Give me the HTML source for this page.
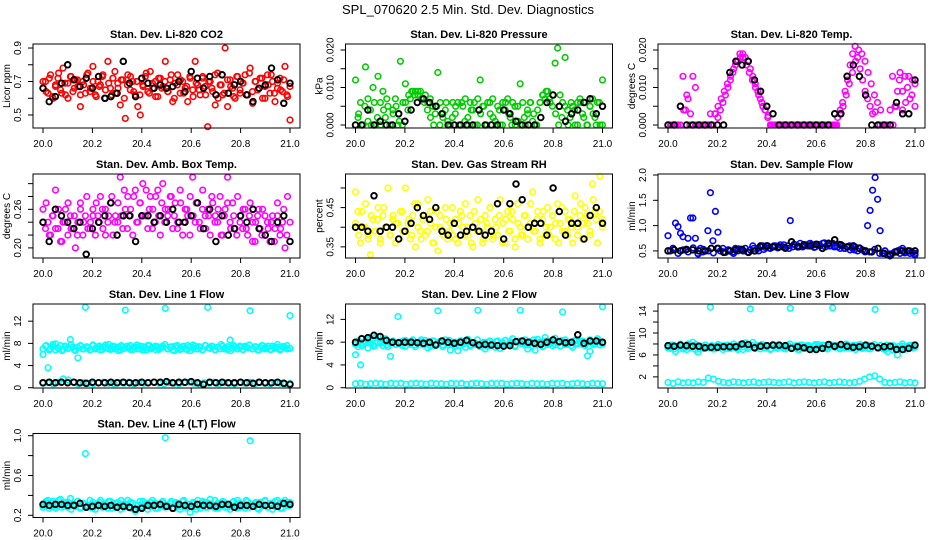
<!DOCTYPE html>
<html><head><meta charset="utf-8"><style>
html,body{margin:0;padding:0;background:#fff;}
svg{display:block;font-family:"Liberation Sans",Arial,sans-serif;}
</style></head><body>
<svg id="chart" width="936" height="540" viewBox="0 0 936 540" xmlns="http://www.w3.org/2000/svg">
<rect x="0" y="0" width="936" height="540" fill="#fff"/>
<text x="468" y="14" font-size="13" text-anchor="middle">SPL_070620  2.5 Min. Std. Dev. Diagnostics</text>
</svg>
<script>
const xTicks = [20.0,20.2,20.4,20.6,20.8,21.0];
const xTickLabels = ["20.0","20.2","20.4","20.6","20.8","21.0"];

const co2Red = [0.66,0.70,0.63,0.74,0.60,0.68,0.72,0.65,0.78,0.62,0.69,0.73,0.64,0.71,0.67,0.55,0.70,0.63,0.75,0.66,0.79,0.62,0.70,0.68,0.74,0.60,0.82,0.66,0.72,0.63,0.69,0.56,0.71,0.48,0.74,0.65,0.70,0.62,0.55,0.50,0.68,0.73,0.64,0.76,0.66,0.70,0.61,0.72,0.67,0.82,0.64,0.71,0.58,0.69,0.74,0.63,0.70,0.66,0.58,0.72,0.65,0.82,0.68,0.62,0.73,0.67,0.43,0.70,0.64,0.56,0.75,0.68,0.62,0.90,0.55,0.71,0.66,0.60,0.73,0.63,0.69,0.74,0.62,0.78,0.57,0.70,0.65,0.72,0.60,0.67,0.74,0.63,0.70,0.58,0.66,0.72,0.64,0.79,0.61,0.47];
const co2Red2 = [0.70,0.64,0.72,0.61,0.67,0.75,0.63,0.69,0.60,0.73,0.66,0.71,0.62,0.68,0.74,0.64,0.70,0.61,0.67,0.73,0.65,0.69,0.62,0.76,0.66,0.71,0.60,0.68,0.73,0.64,0.70,0.62,0.67,0.75,0.63,0.69,0.61,0.72,0.66,0.70,0.64,0.74,0.60,0.68,0.71,0.63,0.67,0.73,0.61,0.69,0.65,0.72,0.62,0.70,0.66,0.74,0.60,0.68,0.63,0.71,0.67,0.61,0.73,0.65,0.69,0.62,0.75,0.64,0.70,0.66,0.72,0.60,0.68,0.74,0.63,0.69,0.65,0.71,0.62,0.67];
const co2Black = [0.66,0.58,0.61,0.69,0.80,0.71,0.67,0.72,0.66,0.73,0.60,0.61,0.63,0.82,0.69,0.61,0.72,0.69,0.66,0.68,0.66,0.67,0.70,0.64,0.76,0.72,0.66,0.73,0.62,0.74,0.63,0.68,0.70,0.62,0.58,0.66,0.68,0.78,0.71,0.57,0.69];
const presGreen = [0.012,0.002,0.006,0.0,0.0155,0.007,0.004,0.010,0.0,0.013,0.006,0.009,0.002,0.005,0.0,0.004,0.007,0.0,0.017,0.006,0.011,0.004,0.007,0.009,0.009,0.008,0.009,0.007,0.008,0.006,0.007,0.005,0.003,0.014,0.006,0.002,0.004,0.001,0.0,0.006,0.003,0.006,0.0,0.005,0.007,0.002,0.006,0.004,0.0,0.007,0.012,0.005,0.0,0.006,0.003,0.007,0.001,0.005,0.0,0.006,0.004,0.007,0.002,0.006,0.0,0.005,0.011,0.006,0.0,0.003,0.006,0.001,0.0,0.004,0.006,0.008,0.007,0.009,0.006,0.008,0.0165,0.0205,0.008,0.006,0.018,0.004,0.002,0.005,0.0,0.006,0.007,0.003,0.006,0.0,0.005,0.007,0.002,0.006,0.0,0.012];
const presGreen2 = [0,0.003,0,0.005,0.001,0,0.006,0.002,0,0.004,0.007,0,0.003,0.005,0.001,0,0.006,0.008,0.009,0.008,0.009,0.007,0.006,0.004,0.002,0,0.005,0,0.003,0.006,0,0.002,0.005,0,0.006,0.001,0,0.004,0.006,0,0.003,0.005,0,0.006,0.002,0,0.004,0,0.006,0.003,0,0.005,0.001,0,0.002,0.004,0.006,0.003,0,0.006,0.008,0.009,0.007,0.005,0.003,0,0.002,0.005,0,0.006,0.004,0,0.006,0.002,0,0.005,0.003,0,0.006,0];
const presBlack = [0,0,0.004,0,0.001,0,0,0.003,0.001,0.004,0.006,0.007,0.006,0.005,0.003,0,0,0,0,0,0.004,0,0,0,0.004,0.003,0.001,0,0,0,0.002,0.006,0.008,0.005,0.001,0.003,0.004,0.006,0.007,0.003,0.005];
const tempMag = [0,0,0,0,0,0.005,0.013,0.004,0.007,0.003,0.013,0.010,0,0,0,0,0,0.003,0,0.003,0.002,0.004,0.006,0.008,0.010,0.012,0.014,0.016,0.017,0.018,0.019,0.018,0.017,0.015,0.013,0.011,0.009,0.007,0.005,0.004,0.002,0,0,0,0,0,0,0,0,0,0,0,0,0,0,0,0,0,0,0,0,0,0,0,0,0,0,0,0.002,0.004,0.006,0.009,0.012,0.016,0.019,0.021,0.018,0.015,0.012,0.009,0.007,0.005,0.003,0.0035,0,0,0,0,0,0.004,0.013,0.005,0.009,0.014,0.004,0.013,0.010,0.007,0.012,0.011];
const tempMag2 = [0,0,0,0,0,0.004,0.008,0,0,0,0,0,0,0,0,0.003,0.005,0.007,0.009,0.011,0.013,0.015,0.017,0.019,0.018,0.016,0.014,0.012,0.010,0.008,0.006,0.004,0.0025,0,0,0,0,0,0,0,0,0,0,0,0,0,0,0,0,0,0,0,0,0,0,0.003,0.005,0.008,0.011,0.014,0.017,0.020,0.019,0.017,0.014,0.011,0.008,0.006,0.004,0,0,0,0,0.005,0.012,0.009,0.006,0.013,0.008,0.005];
const tempBlack = [0,0,0.005,0,0,0,0,0,0,0,0.014,0.017,0.016,0.017,0.012,0.009,0.005,0.003,0,0,0,0,0,0,0,0,0,0.003,0.003,0.013,0.016,0.013,0.008,0,0,0,0,0.006,0.003,0.003,0.012];
const ambMag = [0.26,0.23,0.24,0.22,0.25,0.29,0.23,0.21,0.24,0.26,0.22,0.25,0.23,0.20,0.24,0.27,0.22,0.25,0.23,0.24,0.26,0.22,0.25,0.28,0.23,0.26,0.24,0.27,0.22,0.25,0.24,0.31,0.23,0.26,0.28,0.25,0.22,0.29,0.24,0.27,0.30,0.25,0.23,0.28,0.26,0.24,0.29,0.22,0.30,0.26,0.25,0.28,0.23,0.27,0.24,0.29,0.22,0.26,0.25,0.28,0.31,0.24,0.27,0.23,0.29,0.25,0.26,0.22,0.27,0.25,0.24,0.28,0.22,0.26,0.31,0.24,0.27,0.23,0.28,0.25,0.23,0.26,0.22,0.27,0.24,0.21,0.25,0.23,0.26,0.22,0.24,0.21,0.25,0.23,0.27,0.22,0.24,0.20,0.28,0.21];
const ambMag2 = [0.24,0.27,0.22,0.25,0.23,0.26,0.21,0.24,0.27,0.23,0.25,0.22,0.26,0.24,0.28,0.23,0.25,0.27,0.24,0.26,0.22,0.25,0.28,0.24,0.27,0.25,0.29,0.23,0.26,0.28,0.24,0.27,0.25,0.29,0.26,0.23,0.28,0.25,0.27,0.24,0.26,0.28,0.25,0.23,0.27,0.24,0.26,0.22,0.25,0.27,0.24,0.26,0.23,0.25,0.28,0.24,0.26,0.22,0.25,0.27,0.23,0.25,0.22,0.24,0.26,0.23,0.25,0.21,0.24,0.26,0.22,0.25,0.23,0.24,0.21,0.25,0.23,0.26,0.22,0.24];
const ambBlack = [0.24,0.21,0.26,0.25,0.24,0.23,0.24,0.19,0.23,0.24,0.25,0.27,0.22,0.25,0.25,0.21,0.25,0.25,0.24,0.25,0.24,0.26,0.24,0.24,0.25,0.27,0.23,0.26,0.21,0.25,0.22,0.23,0.25,0.24,0.26,0.23,0.22,0.21,0.24,0.25,0.21];
const rhYellow = [0.49,0.44,0.36,0.40,0.46,0.38,0.33,0.42,0.39,0.45,0.37,0.43,0.40,0.50,0.38,0.42,0.36,0.41,0.44,0.39,0.50,0.41,0.37,0.43,0.35,0.46,0.39,0.42,0.38,0.47,0.44,0.36,0.40,0.34,0.43,0.39,0.45,0.37,0.41,0.38,0.42,0.36,0.44,0.40,0.46,0.38,0.43,0.35,0.41,0.47,0.39,0.36,0.43,0.40,0.45,0.37,0.42,0.38,0.47,0.41,0.36,0.44,0.39,0.42,0.35,0.46,0.40,0.38,0.43,0.37,0.41,0.49,0.39,0.44,0.36,0.42,0.38,0.45,0.40,0.43,0.37,0.46,0.41,0.39,0.44,0.38,0.42,0.36,0.48,0.40,0.43,0.37,0.45,0.41,0.38,0.51,0.44,0.36,0.53,0.42];
const rhYellow2 = [0.41,0.38,0.44,0.40,0.37,0.43,0.39,0.42,0.36,0.45,0.40,0.38,0.43,0.41,0.37,0.44,0.39,0.42,0.38,0.46,0.40,0.37,0.43,0.39,0.41,0.36,0.44,0.40,0.38,0.42,0.39,0.45,0.37,0.41,0.43,0.38,0.40,0.36,0.44,0.39,0.42,0.37,0.41,0.45,0.38,0.40,0.43,0.36,0.42,0.39,0.44,0.37,0.41,0.38,0.43,0.40,0.46,0.39,0.42,0.37,0.44,0.40,0.38,0.43,0.41,0.36,0.45,0.39,0.42,0.40,0.44,0.38,0.46,0.41,0.43,0.39,0.47,0.42,0.44,0.40];
const rhBlack = [0.40,0.40,0.39,0.48,0.39,0.40,0.40,0.37,0.39,0.41,0.45,0.43,0.42,0.45,0.39,0.38,0.41,0.38,0.39,0.40,0.39,0.38,0.39,0.46,0.37,0.46,0.51,0.47,0.40,0.41,0.41,0.38,0.50,0.44,0.38,0.41,0.41,0.37,0.43,0.45,0.41];
const flowBlue = [0.80,0.50,0.55,1.05,0.98,0.85,0.78,0.52,0.75,1.15,1.15,0.75,0.45,0.55,0.48,0.50,0.90,1.65,0.70,1.28,0.87,0.50,0.55,0.47,0.52,0.50,0.48,0.55,0.50,0.53,0.50,0.55,0.48,0.52,0.60,0.50,0.55,0.58,0.60,0.57,0.60,0.55,0.58,0.60,0.56,0.62,0.58,0.55,0.60,1.10,0.58,0.62,0.60,0.65,0.58,0.62,0.60,0.65,0.62,0.58,0.63,0.60,0.65,0.58,0.62,0.60,0.65,0.60,0.58,0.55,0.60,0.55,0.58,0.52,0.55,0.58,0.50,0.55,0.52,0.48,1.00,1.30,1.70,1.95,1.52,0.90,0.45,0.50,0.42,0.40,0.45,0.48,0.50,0.45,0.55,0.48,0.50,0.45,0.47,0.42];
const flowBlueBand = [0.50,0.55,0.45,0.52,0.48,0.56,0.44,0.53,0.50,0.46,0.55,0.48,0.52,0.45,0.54,0.50,0.47,0.55,0.50,0.53,0.56,0.60,0.58,0.62,0.55,0.63,0.58,0.60,0.64,0.57,0.62,0.66,0.60,0.58,0.63,0.55,0.60,0.52,0.56,0.50,0.48,0.53,0.45,0.50,0.44,0.48,0.52,0.46,0.50,0.45];
const flowBlack = [0.50,0.52,0.50,0.53,0.52,0.50,0.50,0.55,0.55,0.47,0.50,0.52,0.53,0.47,0.50,0.60,0.60,0.58,0.58,0.56,0.68,0.58,0.62,0.60,0.63,0.55,0.65,0.72,0.62,0.58,0.60,0.55,0.50,0.48,0.55,0.45,0.42,0.48,0.50,0.50,0.50];
const l1Upper = [6.0,7.5,3.6,7.0,7.8,6.8,7.2,7.6,6.9,7.4,7.1,8.7,7.3,6.7,5.4,7.5,7.0,14.5,7.2,6.9,7.6,7.0,7.4,6.8,7.3,7.7,7.1,6.9,7.5,7.0,7.3,6.8,7.4,14.0,7.2,7.6,6.9,7.3,7.0,7.5,6.8,7.2,7.6,7.0,7.3,6.9,7.4,7.1,7.5,14.3,7.0,7.3,6.8,7.5,7.2,6.9,7.4,7.0,7.6,6.7,7.2,7.5,7.0,7.3,6.9,7.6,14.5,7.1,7.4,6.8,7.3,7.0,7.5,7.2,6.9,8.6,7.1,7.4,7.0,7.3,6.9,7.5,7.2,13.9,7.0,7.4,6.8,7.3,7.6,7.0,7.2,6.9,7.5,7.1,7.3,6.8,7.4,7.2,7.0,13.0];
const l1Upper2 = [7.0,7.6,6.8,7.4,7.9,7.1,6.7,7.5,7.2,7.8,6.9,7.3,7.6,7.0,7.4,6.8,7.7,7.2,7.5,6.9,7.3,7.8,7.0,7.4,6.7,7.6,7.1,7.5,6.9,7.3,7.7,7.0,7.4,6.8,7.6,7.2,7.5,6.9,7.3,7.8,7.0,7.4,6.7,7.6,7.1,7.5,6.9,7.3,7.7,7.0,7.4,6.8,7.6,7.2,7.5,6.9,7.3,7.8,7.0,7.4,6.7,7.6,7.1,7.5,6.9,7.3,7.7,7.0,7.4,6.8,7.6,7.2,7.5,6.9,7.3,7.8,7.0,7.4,7.6,7.1];
const l1Lower = [0.8,0.9,0.7,1.0,1.6,1.4,1.0,0.7,0.9,0.8,0.7,0.9,1.0,0.8,0.7,0.9,0.8,1.0,0.7,0.9,0.8,0.9,1.0,0.8,0.7,0.9,0.8,0.7,0.9,1.0,0.8,0.7,0.9,0.8,1.0,0.7,0.9,0.8,0.7,0.9,0.8,1.0,0.7,0.9,0.8,0.7,0.9,0.8,0.7,0.8];
const l1Black = [0.9,1.0,0.9,1.0,0.9,1.0,0.9,0.8,1.0,0.9,0.9,1.0,0.9,1.0,0.9,0.9,1.0,0.9,1.0,1.0,1.1,0.9,1.0,1.0,1.1,0.9,0.6,1.0,0.9,1.0,0.9,0.9,1.0,0.9,0.8,1.0,0.9,0.9,1.0,0.8,0.6];
const l2Upper = [5.8,7.2,4.0,7.8,8.2,7.0,8.5,7.5,8.8,9.0,8.0,7.4,8.6,7.2,5.5,8.0,7.6,12.5,7.8,8.2,7.3,8.0,7.6,8.4,7.2,7.9,8.1,7.5,8.3,7.0,7.8,8.2,7.4,13.5,7.9,7.2,8.4,7.6,6.6,8.0,7.4,6.5,8.2,7.7,7.1,8.5,7.3,7.9,7.6,13.6,7.2,7.8,6.8,8.0,7.4,7.7,7.1,8.2,6.9,7.6,8.3,7.5,7.9,8.6,7.2,8.0,13.6,7.7,8.4,6.8,8.1,7.4,6.6,8.5,7.9,7.2,8.8,7.6,8.2,7.4,8.7,7.9,7.3,13.3,8.4,7.6,8.0,7.1,8.3,7.7,7.9,8.2,7.4,5.6,6.4,8.0,7.7,8.6,7.5,14.2];
const l2Upper2 = [7.6,8.2,7.4,8.0,8.5,7.7,7.3,8.1,7.8,8.4,7.5,7.9,8.2,7.6,8.0,7.4,8.3,7.8,8.1,7.5,7.9,8.4,7.6,8.0,7.3,8.2,7.7,8.1,7.5,7.9,8.3,7.6,8.0,7.4,8.2,7.8,8.1,7.5,7.9,8.4,7.6,8.0,7.3,8.2,7.7,8.1,7.5,7.9,8.3,7.6,8.0,7.4,8.2,7.8,8.1,7.5,7.9,8.4,7.6,8.0,7.3,8.2,7.7,8.1,7.5,7.9,8.3,7.6,8.0,7.4,8.2,7.8,8.1,7.5,7.9,8.4,7.6,8.0,8.2,7.7];
const l2Lower = [0.7,0.8,0.6,0.7,0.8,0.7,0.6,0.8,0.7,0.8,0.6,0.7,0.8,0.7,0.6,0.8,0.7,0.7,0.6,0.8,0.7,0.8,0.6,0.7,0.8,0.7,0.6,0.8,0.7,0.8,0.6,0.7,0.8,0.7,0.6,0.8,0.7,0.7,0.6,0.8,0.7,0.8,0.6,0.7,0.8,0.7,0.6,0.8,0.7,0.7];
const l2Black = [8.0,8.6,8.8,9.2,9.0,8.3,8.0,7.9,8.0,8.0,7.9,7.8,8.0,7.5,8.2,8.0,7.8,8.0,8.3,7.9,7.5,7.6,7.5,7.4,7.3,7.4,8.1,8.2,8.0,7.8,7.6,8.0,8.4,8.1,7.9,8.0,9.3,7.8,8.2,8.2,8.0];
const l3Upper = [7.6,7.2,7.8,6.6,7.5,7.9,7.1,7.4,8.0,7.3,8.3,7.0,6.5,7.6,7.2,7.8,7.4,14.7,7.1,7.6,7.3,7.7,7.0,7.5,7.8,7.2,7.6,7.4,7.0,7.9,7.5,8.2,7.2,14.4,8.3,7.4,7.7,7.1,7.8,7.3,7.6,7.0,7.9,7.4,7.2,7.7,7.5,7.1,7.8,14.5,7.3,7.6,7.0,7.8,7.4,7.2,7.7,7.5,7.1,7.9,7.3,7.6,7.8,7.2,7.5,7.9,14.6,7.4,7.7,7.1,7.6,7.3,7.8,7.5,7.2,7.7,7.4,7.9,7.2,7.5,7.8,7.1,7.6,14.3,7.4,7.7,7.2,7.0,6.6,7.3,6.9,7.5,6.0,7.2,7.6,7.0,7.4,7.7,7.3,14.0];
const l3Upper2 = [7.3,7.8,7.1,7.6,8.0,7.4,7.0,7.7,7.5,7.9,7.2,7.6,7.8,7.3,7.7,7.1,7.9,7.5,7.7,7.2,7.6,8.0,7.3,7.7,7.0,7.8,7.4,7.7,7.2,7.6,7.9,7.3,7.7,7.1,7.8,7.5,7.7,7.2,7.6,8.0,7.3,7.7,7.0,7.8,7.4,7.7,7.2,7.6,7.9,7.3,7.7,7.1,7.8,7.5,7.7,7.2,7.6,8.0,7.3,7.7,7.0,7.8,7.4,7.7,7.2,7.6,7.9,7.3,7.7,7.1,7.8,7.5,7.7,7.2,7.6,8.0,7.3,7.7,7.8,7.4];
const l3Lower = [1.0,0.8,1.1,0.9,1.0,0.9,1.1,1.0,1.8,1.6,1.2,1.0,0.9,1.1,1.0,0.9,1.0,1.1,0.9,1.0,1.1,1.0,0.9,1.0,1.1,0.9,1.0,1.1,1.0,0.9,1.0,1.1,0.9,1.0,1.1,1.0,0.9,1.0,1.2,1.6,2.0,2.2,1.6,1.0,0.9,1.0,1.1,0.9,1.0,0.9];
const l3Black = [7.7,7.6,7.8,7.7,7.6,7.6,7.3,7.4,7.4,7.5,7.5,7.5,8.0,7.9,7.3,7.6,7.7,7.8,7.8,7.7,7.2,7.5,7.3,7.0,7.0,7.2,7.9,7.6,7.9,7.6,7.4,7.5,7.8,7.6,7.3,7.5,7.6,7.0,7.0,7.2,7.8];
const l4Cyan = [0.28,0.32,0.35,0.29,0.34,0.27,0.31,0.36,0.30,0.33,0.28,0.37,0.31,0.29,0.34,0.27,0.32,0.82,0.30,0.28,0.33,0.26,0.31,0.35,0.29,0.32,0.27,0.34,0.30,0.28,0.33,0.26,0.31,0.29,0.35,0.27,0.32,0.24,0.30,0.28,0.34,0.31,0.26,0.33,0.29,0.32,0.27,0.30,0.34,0.98,0.29,0.32,0.27,0.33,0.30,0.26,0.34,0.28,0.31,0.23,0.32,0.29,0.35,0.27,0.31,0.33,0.28,0.36,0.30,0.27,0.32,0.29,0.34,0.28,0.31,0.26,0.33,0.30,0.35,0.28,0.31,0.27,0.34,0.95,0.29,0.32,0.27,0.33,0.30,0.35,0.28,0.31,0.26,0.34,0.29,0.32,0.27,0.35,0.30,0.33];
const l4Cyan2 = [0.30,0.34,0.27,0.32,0.29,0.35,0.28,0.31,0.33,0.26,0.30,0.34,0.28,0.32,0.29,0.35,0.27,0.31,0.33,0.28,0.30,0.34,0.27,0.32,0.29,0.35,0.28,0.31,0.33,0.26,0.30,0.34,0.28,0.32,0.29,0.35,0.27,0.31,0.33,0.28,0.30,0.34,0.27,0.32,0.29,0.35,0.28,0.31,0.33,0.26,0.30,0.34,0.28,0.32,0.29,0.35,0.27,0.31,0.33,0.28,0.30,0.34,0.27,0.32,0.29,0.35,0.28,0.31,0.33,0.26,0.30,0.34,0.28,0.32,0.29,0.35,0.27,0.31,0.33,0.30];
const l4Black = [0.31,0.30,0.31,0.31,0.30,0.30,0.32,0.28,0.29,0.30,0.29,0.30,0.28,0.29,0.28,0.26,0.27,0.30,0.30,0.31,0.29,0.27,0.31,0.30,0.29,0.31,0.30,0.30,0.29,0.31,0.31,0.28,0.30,0.30,0.29,0.31,0.30,0.30,0.29,0.32,0.31];

const svg = document.getElementById('chart');
const NS = 'http://www.w3.org/2000/svg';
const colX = [33, 345.5, 658];
const rowY = [44, 174, 304, 433.5];
const W = 267, H = 84;

function mk(tag, attrs, parent) {
  const e = document.createElementNS(NS, tag);
  for (const k in attrs) e.setAttribute(k, attrs[k]);
  parent.appendChild(e);
  return e;
}

const panels = [
  {c:0,r:0,slug:'co2',title:'Stan. Dev. Li-820 CO2',ylab:'Licor ppm',lo:0.4224,hi:0.924,ticks:[0.5,0.6,0.7,0.8,0.9],labs:{0.5:'0.5',0.7:'0.7',0.9:'0.9'},series:[[co2Red,'#ff0000'],[co2Red2,'#ff0000'],[co2Black,'#000000']]},
  {c:1,r:0,slug:'pressure',title:'Stan. Dev. Li-820 Pressure',ylab:'kPa',lo:-0.0008,hi:0.0216,ticks:[0,0.005,0.01,0.015,0.02],labs:{0:'0.000',0.01:'0.010',0.02:'0.020'},series:[[presGreen,'#00cc00'],[presGreen2,'#00cc00'],[presBlack,'#000000']]},
  {c:2,r:0,slug:'temp',title:'Stan. Dev. Li-820 Temp.',ylab:'degrees C',lo:-0.0008,hi:0.0216,ticks:[0,0.005,0.01,0.015,0.02],labs:{0:'0.000',0.01:'0.010',0.02:'0.020'},series:[[tempMag,'#ff00ff'],[tempMag2,'#ff00ff'],[tempBlack,'#000000']]},
  {c:0,r:1,slug:'amb-temp',title:'Stan. Dev. Amb. Box Temp.',ylab:'degrees C',lo:0.1843,hi:0.315,ticks:[0.20,0.22,0.24,0.26,0.28,0.30],labs:{0.2:'0.20',0.26:'0.26'},series:[[ambMag,'#ff00ff'],[ambMag2,'#ff00ff'],[ambBlack,'#000000']]},
  {c:1,r:1,slug:'rh',title:'Stan. Dev. Gas Stream RH',ylab:'percent',lo:0.3216,hi:0.5356,ticks:[0.35,0.40,0.45,0.50],labs:{0.35:'0.35',0.45:'0.45'},series:[[rhYellow,'#ffff00'],[rhYellow2,'#ffff00'],[rhBlack,'#000000']]},
  {c:2,r:1,slug:'sample-flow',title:'Stan. Dev. Sample Flow',ylab:'ml/min',lo:0.36,hi:2.02,ticks:[0.5,1.0,1.5,2.0],labs:{0.5:'0.5',1:'1.0',1.5:'1.5',2:'2.0'},series:[[flowBlue,'#0000ff'],[flowBlueBand,'#0000ff'],[flowBlack,'#000000']]},
  {c:0,r:2,slug:'line1',title:'Stan. Dev. Line 1 Flow',ylab:'ml/min',lo:-0.05,hi:15.1,ticks:[0,4,8,12],labs:{0:'0',4:'4',8:'8',12:'12'},series:[[l1Upper,'#00ffff'],[l1Upper2,'#00ffff'],[l1Lower,'#00ffff'],[l1Black,'#000000']]},
  {c:1,r:2,slug:'line2',title:'Stan. Dev. Line 2 Flow',ylab:'ml/min',lo:-0.05,hi:14.7,ticks:[0,4,8,12],labs:{0:'0',4:'4',8:'8',12:'12'},series:[[l2Upper,'#00ffff'],[l2Upper2,'#00ffff'],[l2Lower,'#00ffff'],[l2Black,'#000000']]},
  {c:2,r:2,slug:'line3',title:'Stan. Dev. Line 3 Flow',ylab:'ml/min',lo:-0.03,hi:15.29,ticks:[2,4,6,8,10,12,14],labs:{2:'2',6:'6',10:'10',14:'14'},series:[[l3Upper,'#00ffff'],[l3Upper2,'#00ffff'],[l3Lower,'#00ffff'],[l3Black,'#000000']]},
  {c:0,r:3,slug:'line4',title:'Stan. Dev. Line 4 (LT) Flow',ylab:'ml/min',lo:0.178,hi:1.022,ticks:[0.2,0.4,0.6,0.8,1.0],labs:{0.2:'0.2',0.6:'0.6',1:'1.0'},series:[[l4Cyan,'#00ffff'],[l4Cyan2,'#00ffff'],[l4Black,'#000000']]}
];

panels.forEach(p => {
  const x0 = colX[p.c], y0 = rowY[p.r];
  const g = mk('g', {}, svg);
  
  
  const xs = v => x0 + 10 + (v - 20) * 247;
  const ys = v => y0 + H - (v - p.lo) / (p.hi - p.lo) * H;

  const pts = mk('g', {fill:'none'}, g);
  
  
  p.series.forEach(([vals, col]) => {
    const n = vals.length;
    const isBlack = col === '#000000';
    vals.forEach((v, i) => {
      const t = 20 + i / (n - 1);
      const c = mk('circle', {cx: xs(t).toFixed(1), cy: ys(v).toFixed(1), r: 2.8, stroke: col, 'stroke-width': isBlack ? 1.9 : 1.6}, pts);
      
      
    });
  });

  const box = mk('rect', {x:x0, y:y0, width:W, height:H, fill:'none', stroke:'#000', 'stroke-width':'1'}, g);
  
  

  const tt = mk('text', {x: x0 + W/2, y: y0 - 6, 'font-size': 11, 'font-weight': 'bold', 'text-anchor': 'middle'}, g);
  tt.textContent = p.title;
  
  

  const xa = mk('g', {}, g);
  
  
  mk('line', {x1: xs(20), x2: xs(21), y1: y0+H, y2: y0+H, stroke:'#000'}, xa);
  xTicks.forEach((v, i) => {
    mk('line', {x1: xs(v), x2: xs(v), y1: y0+H, y2: y0+H+5, stroke:'#000'}, xa);
    const tl = mk('text', {x: xs(v), y: y0+H+19, 'font-size': 10, 'text-anchor': 'middle'}, xa);
    tl.textContent = xTickLabels[i];
    
    
  });

  const ya = mk('g', {}, g);
  
  
  p.ticks.forEach(v => {
    mk('line', {x1: x0-5, x2: x0, y1: ys(v), y2: ys(v), stroke:'#000'}, ya);
    const key = Object.keys(p.labs).find(k => Math.abs(parseFloat(k) - v) < 1e-9);
    if (key !== undefined) {
      const yy = ys(v);
      const tl = mk('text', {x: x0-12, y: yy, 'font-size': 10, 'text-anchor': 'middle', transform: `rotate(-90 ${x0-12} ${yy})`}, ya);
      tl.textContent = p.labs[key];
      
      
    }
  });
  const yc = y0 + H/2;
  const yt = mk('text', {x: x0-23, y: yc, 'font-size': 10, 'text-anchor': 'middle', transform: `rotate(-90 ${x0-23} ${yc})`}, ya);
  yt.textContent = p.ylab;
  
  
});
</script>
</body></html>
